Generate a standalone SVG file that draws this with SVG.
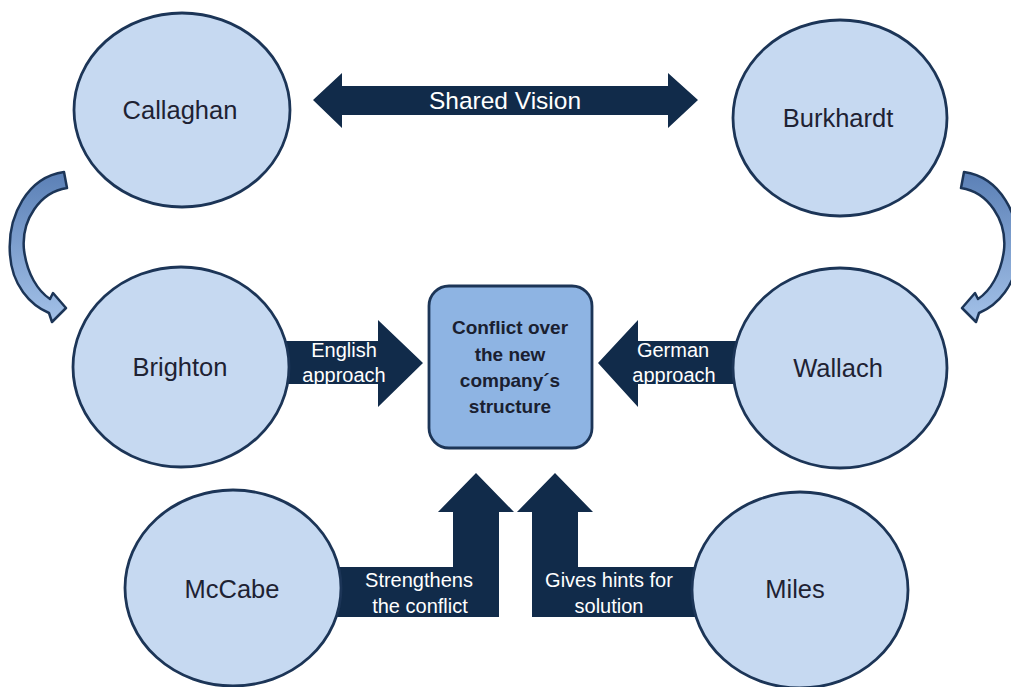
<svg xmlns="http://www.w3.org/2000/svg" width="1011" height="687" viewBox="0 0 1011 687">
<defs>
<linearGradient id="curveGrad" x1="0" y1="0" x2="0" y2="1">
<stop offset="0" stop-color="#5b80b6"/>
<stop offset="1" stop-color="#a3c1e8"/>
</linearGradient>
<style>
.node{fill:#c6d9f1;stroke:#1c3557;stroke-width:2.8}
.box{fill:#8eb4e3;stroke:#1c3557;stroke-width:2.8}
.name{font-family:"Liberation Sans",Arial,sans-serif;font-size:25.5px;fill:#1e2233;text-anchor:middle}
.dark{fill:#112b4a}
.lbl{font-family:"Liberation Sans",Arial,sans-serif;font-size:20px;fill:#ffffff;text-anchor:middle}
.big{font-size:24.5px}
.ctr{font-family:"Liberation Sans",Arial,sans-serif;font-size:19px;font-weight:bold;fill:#1a2030;text-anchor:middle}
.curve{fill:url(#curveGrad);stroke:#1c3557;stroke-width:2.5;stroke-linejoin:round}
</style>
</defs>
<rect width="1011" height="687" fill="#ffffff"/>
<g id="connectors">
<g id="shared-vision">
<polygon class="dark" points="313,100 342,73 342,86 668,86 668,73 698,100 668,128 668,115 342,115 342,128"/>
<text class="lbl big" x="505" y="109">Shared Vision</text>
</g>
<g id="english">
<polygon class="dark" points="280,341 378,341 378,320 423,363 378,407 378,384 280,384"/>
<text class="lbl" x="344" y="357">English</text>
<text class="lbl" x="344" y="382">approach</text>
</g>
<g id="german">
<polygon class="dark" points="740,341 638,341 638,320 598,363 638,407 638,384 740,384"/>
<text class="lbl" x="673" y="357">German</text>
<text class="lbl" x="674" y="382">approach</text>
</g>
<g id="strengthens">
<polygon class="dark" points="330,567 453,567 453,512 438,512 476,473 514,512 499,512 499,617 330,617"/>
<text class="lbl" x="419" y="587">Strengthens</text>
<text class="lbl" x="420" y="613">the conflict</text>
</g>
<g id="hints">
<polygon class="dark" points="710,567 578,567 578,512 593,512 555,473 517,512 532,512 532,617 710,617"/>
<text class="lbl" x="609" y="587">Gives hints for</text>
<text class="lbl" x="609" y="613">solution</text>
</g>
<path id="curve-left" class="curve" d="M 64,172 L 67,188 C 40,192 21,220 24,250 C 27,274 38,291 50,299 L 53,293 L 66,308 L 52,322 L 49,313 C 30,305 12,285 10,255 C 7,215 28,177 64,172 Z"/>
<path id="curve-right" class="curve" transform="translate(1028,0) scale(-1,1)" d="M 64,172 L 67,188 C 40,192 21,220 24,250 C 27,274 38,291 50,299 L 53,293 L 66,308 L 52,322 L 49,313 C 30,305 12,285 10,255 C 7,215 28,177 64,172 Z"/>
</g>
<g id="callaghan"><ellipse class="node" cx="182" cy="110" rx="108" ry="97"/><text class="name" x="180" y="119">Callaghan</text></g>
<g id="burkhardt"><ellipse class="node" cx="840" cy="118" rx="107" ry="98"/><text class="name" x="838" y="127">Burkhardt</text></g>
<g id="brighton"><ellipse class="node" cx="181" cy="367" rx="108" ry="100"/><text class="name" x="180" y="376">Brighton</text></g>
<g id="wallach"><ellipse class="node" cx="840" cy="368" rx="107" ry="100"/><text class="name" x="838" y="377">Wallach</text></g>
<g id="mccabe"><ellipse class="node" cx="233" cy="588" rx="108" ry="98"/><text class="name" x="232" y="598">McCabe</text></g>
<g id="miles"><ellipse class="node" cx="800" cy="590" rx="108" ry="98"/><text class="name" x="795" y="598">Miles</text></g>
<g id="conflict">
<rect class="box" x="429" y="286" width="163" height="162" rx="20" ry="20"/>
<text class="ctr" x="510" y="334">Conflict over</text>
<text class="ctr" x="510" y="361">the new</text>
<text class="ctr" x="510" y="387">company´s</text>
<text class="ctr" x="510" y="413">structure</text>
</g>
</svg>
